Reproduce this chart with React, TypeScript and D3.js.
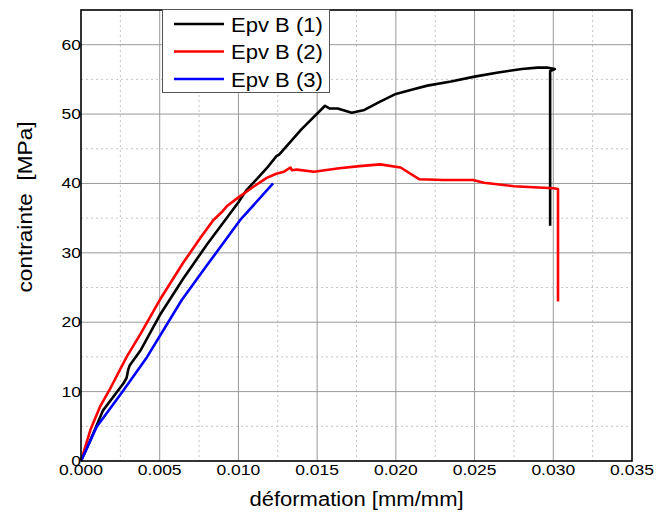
import React, { useEffect, useRef } from 'react';
import * as d3 from 'd3';

// Strain / stress readings for each test piece
const strain1 = [0, 0.0005, 0.0014, 0.0027, 0.0029, 0.003, 0.0031, 0.0038, 0.005, 0.0065, 0.008, 0.01, 0.0105, 0.0118, 0.0124, 0.0126, 0.014, 0.0155, 0.0158, 0.0163, 0.0172, 0.018, 0.019, 0.02, 0.021, 0.022, 0.0235, 0.025, 0.0265, 0.028, 0.029, 0.0296, 0.0301, 0.0298, 0.0298];
const stress1 = [0, 2.5, 7.3, 11.2, 12.0, 13.2, 13.8, 16.0, 21.0, 26.3, 31.2, 37.3, 39.0, 42.2, 43.9, 44.2, 47.8, 51.2, 50.8, 50.8, 50.2, 50.6, 51.8, 52.9, 53.5, 54.1, 54.7, 55.4, 56.0, 56.5, 56.7, 56.7, 56.5, 56.2, 33.9];

const strain2 = [0, 0.0006, 0.0012, 0.0018, 0.0029, 0.0038, 0.005, 0.0065, 0.0076, 0.0084, 0.009, 0.0093, 0.01, 0.011, 0.0118, 0.0124, 0.0129, 0.0133, 0.0134, 0.0137, 0.0148, 0.0164, 0.0177, 0.019, 0.0203, 0.0215, 0.023, 0.0249, 0.0256, 0.0275, 0.03, 0.0303, 0.0303];
const stress2 = [0, 4.5, 7.8, 10.2, 15.0, 18.4, 23.2, 28.6, 32.2, 34.7, 36.0, 36.8, 38.0, 39.6, 40.8, 41.4, 41.7, 42.3, 41.9, 42.0, 41.7, 42.2, 42.5, 42.75, 42.3, 40.6, 40.5, 40.5, 40.1, 39.6, 39.3, 39.2, 23.0];

const strain3 = [0, 0.001, 0.0027, 0.0042, 0.0064, 0.008, 0.0101, 0.0122];
const stress3 = [0, 4.95, 10.2, 15.0, 23.2, 28.2, 34.7, 40.0];

const seriesNames = ['Epv B (1)', 'Epv B (2)', 'Epv B (3)'];
const seriesColors = ['#000000', '#ff0000', '#0000ff'];

const xTicks = [0, 0.005, 0.01, 0.015, 0.02, 0.025, 0.03, 0.035];
const yTicks = [0, 10, 20, 30, 40, 50, 60];

const FONT = '"Liberation Sans", Arial, sans-serif';
// the original text is drawn a bit wider than plain Arial
const STRETCH = 1.13;

const App: React.FC = () => {
  const svgRef = useRef<SVGSVGElement>(null);

  useEffect(() => {
    if (!svgRef.current) return;
    const svg = d3.select(svgRef.current);
    svg.selectAll('*').remove();

    const left = 81, right = 632, top = 10, bottom = 461;
    const x = d3.scaleLinear().domain([0, 0.035]).range([left, right]);
    const y = d3.scaleLinear().domain([0, 65]).range([bottom, top]);

    // minor grid (dotted)
    const minorX = d3.range(0.0025, 0.035, 0.005);
    const minorY = d3.range(5, 65, 10);
    const grid = svg.append('g');
    grid.selectAll('line.mx').data(minorX).enter().append('line')
      .attr('x1', d => x(d)).attr('x2', d => x(d)).attr('y1', top).attr('y2', bottom)
      .attr('stroke', '#c4c4c4').attr('stroke-dasharray', '2,3');
    grid.selectAll('line.my').data(minorY).enter().append('line')
      .attr('x1', left).attr('x2', right).attr('y1', d => y(d)).attr('y2', d => y(d))
      .attr('stroke', '#c4c4c4').attr('stroke-dasharray', '2,3');

    // major grid
    grid.selectAll('line.gx').data(xTicks.slice(1, -1)).enter().append('line')
      .attr('x1', d => x(d)).attr('x2', d => x(d)).attr('y1', top).attr('y2', bottom)
      .attr('stroke', '#999999');
    grid.selectAll('line.gy').data(yTicks.slice(1)).enter().append('line')
      .attr('x1', left).attr('x2', right).attr('y1', d => y(d)).attr('y2', d => y(d))
      .attr('stroke', '#999999');

    // curves
    const datasets = [
      strain1.map((e, i) => [e, stress1[i]] as [number, number]),
      strain2.map((e, i) => [e, stress2[i]] as [number, number]),
      strain3.map((e, i) => [e, stress3[i]] as [number, number]),
    ];
    const line = d3.line<[number, number]>().x(d => x(d[0])).y(d => y(d[1]));
    svg.append('g').selectAll('path').data(datasets).enter().append('path')
      .attr('d', d => line(d))
      .attr('fill', 'none')
      .attr('stroke', (d, i) => seriesColors[i])
      .attr('stroke-width', 2.6)
      .attr('stroke-linejoin', 'round');

    // frame
    svg.append('rect')
      .attr('x', left).attr('y', top).attr('width', right - left).attr('height', bottom - top)
      .attr('fill', 'none').attr('stroke', '#000').attr('stroke-width', 1.6);

    // tick labels
    svg.append('g').selectAll('text').data(xTicks).enter().append('text')
      .attr('transform', d => `translate(${x(d)},475) scale(${STRETCH},1)`)
      .attr('text-anchor', 'middle')
      .style('font-family', FONT).style('font-size', '15.5px')
      .text(d => d.toFixed(3));
    svg.append('g').selectAll('text').data(yTicks).enter().append('text')
      .attr('transform', d => `translate(${left},${y(d) + 5}) scale(${STRETCH},1)`)
      .attr('text-anchor', 'end')
      .style('font-family', FONT).style('font-size', '15.5px')
      .text(d => String(d));

    // axis titles
    svg.append('text')
      .attr('transform', `translate(${(left + right) / 2},506) scale(${STRETCH},1)`)
      .attr('text-anchor', 'middle')
      .style('font-family', FONT).style('font-size', '19.5px')
      .text('déformation [mm/mm]');
    svg.append('text')
      .attr('transform', 'translate(32,207) rotate(-90)')
      .attr('text-anchor', 'middle')
      .attr('textLength', 171).attr('lengthAdjust', 'spacingAndGlyphs')
      .style('font-family', FONT).style('font-size', '20px')
      .style('white-space', 'pre')
      .text('contrainte  [MPa]');

    // legend
    const lg = svg.append('g');
    lg.append('rect')
      .attr('x', 162.5).attr('y', 9.5).attr('width', 167).attr('height', 83)
      .attr('fill', '#fff').attr('stroke', '#555').attr('stroke-width', 1);
    const rows = lg.selectAll('g.row').data(seriesNames).enter().append('g')
      .attr('transform', (d, i) => `translate(0,${24 + i * 27.5})`);
    rows.append('line')
      .attr('x1', 174).attr('x2', 224).attr('y1', 0).attr('y2', 0)
      .attr('stroke', (d, i) => seriesColors[i]).attr('stroke-width', 2.6);
    rows.append('text')
      .attr('transform', `translate(231,7.5) scale(${STRETCH},1)`)
      .style('font-family', FONT).style('font-size', '19.5px')
      .text(d => d);
  }, []);

  return (
    <svg
      ref={svgRef}
      width={656}
      height={512}
      style={{ position: 'absolute', left: 0, top: 0, background: '#fff' }}
    />
  );
};

export default App;
